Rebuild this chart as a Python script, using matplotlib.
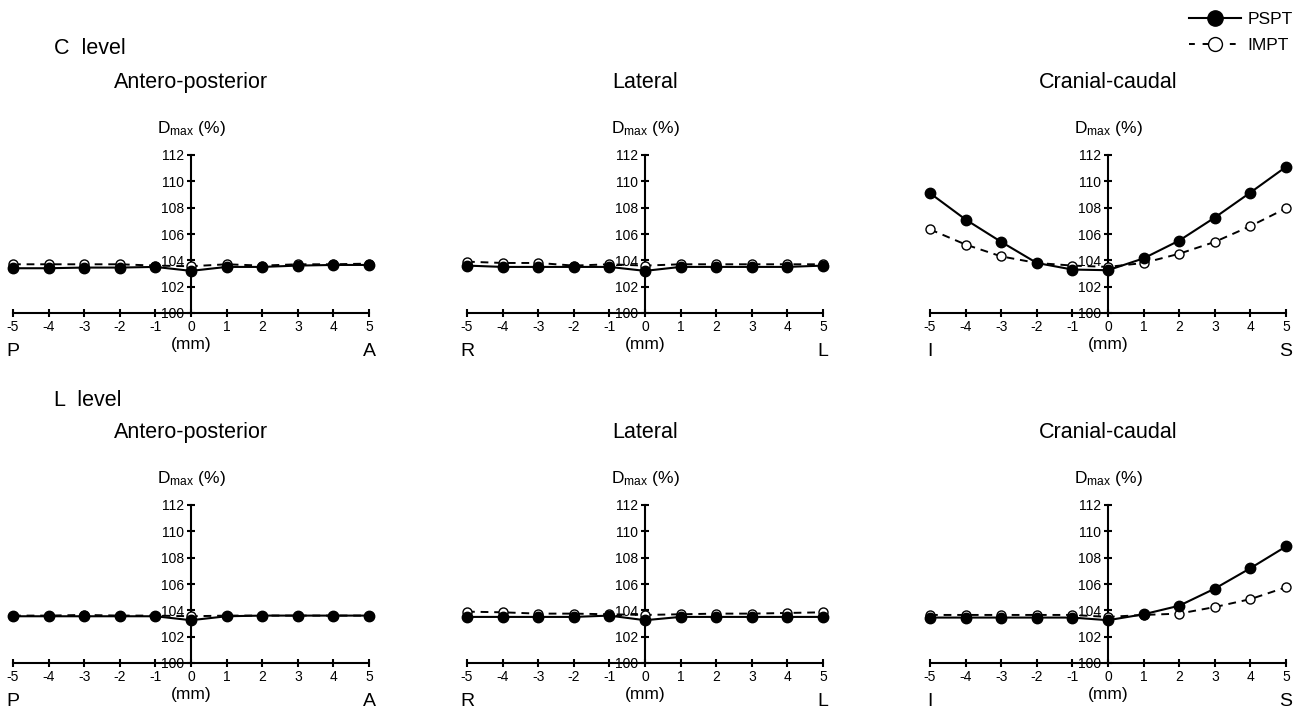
import numpy as np
import matplotlib
matplotlib.use('Agg')
import matplotlib.pyplot as plt
from matplotlib.transforms import blended_transform_factory

plt.rcParams['font.family'] = ['Liberation Sans', 'DejaVu Sans']
plt.rcParams['mathtext.default'] = 'regular'
plt.rcParams['axes.unicode_minus'] = False

shift_mm = [-5, -4, -3, -2, -1, 0, 1, 2, 3, 4, 5]
y_ticks = [100, 102, 104, 106, 108, 110, 112]

levels = ['C  level', 'L  level']
directions = ['Antero-posterior', 'Lateral', 'Cranial-caudal']
end_labels = [('P', 'A'), ('R', 'L'), ('I', 'S')]

# C level
c_ap_pspt = [103.4, 103.4, 103.45, 103.45, 103.5, 103.2, 103.5, 103.5, 103.6, 103.65, 103.65]
c_ap_impt = [103.7, 103.7, 103.7, 103.7, 103.6, 103.55, 103.7, 103.6, 103.7, 103.7, 103.75]
c_lat_pspt = [103.6, 103.5, 103.5, 103.5, 103.5, 103.2, 103.5, 103.5, 103.5, 103.5, 103.6]
c_lat_impt = [103.9, 103.8, 103.8, 103.6, 103.7, 103.6, 103.7, 103.7, 103.7, 103.7, 103.7]
c_cc_pspt = [109.1, 107.1, 105.4, 103.8, 103.3, 103.25, 104.15, 105.5, 107.25, 109.15, 111.1]
c_cc_impt = [106.35, 105.2, 104.3, 103.8, 103.6, 103.5, 103.8, 104.5, 105.4, 106.6, 107.95]

# L level
l_ap_pspt = [103.55, 103.55, 103.55, 103.55, 103.55, 103.25, 103.55, 103.6, 103.6, 103.6, 103.6]
l_ap_impt = [103.6, 103.6, 103.65, 103.6, 103.6, 103.55, 103.6, 103.6, 103.6, 103.6, 103.6]
l_lat_pspt = [103.5, 103.5, 103.5, 103.5, 103.6, 103.25, 103.5, 103.5, 103.5, 103.5, 103.5]
l_lat_impt = [103.9, 103.85, 103.75, 103.75, 103.7, 103.65, 103.7, 103.75, 103.75, 103.8, 103.85]
l_cc_pspt = [103.45, 103.45, 103.45, 103.45, 103.45, 103.25, 103.7, 104.35, 105.65, 107.2, 108.85]
l_cc_impt = [103.65, 103.65, 103.65, 103.65, 103.65, 103.5, 103.65, 103.75, 104.25, 104.85, 105.75]

pspt = [[c_ap_pspt, c_lat_pspt, c_cc_pspt], [l_ap_pspt, l_lat_pspt, l_cc_pspt]]
impt = [[c_ap_impt, c_lat_impt, c_cc_impt], [l_ap_impt, l_lat_impt, l_cc_impt]]

W, H = 1305, 715
fig = plt.figure(figsize=(W / 100, H / 100), dpi=100)

col_left = [13, 467, 930]
col_width = 356
row_top = [155, 505]
row_height = 158
level_y = [48, 400]

for r in range(2):
	fig.text(54 / W, 1 - level_y[r] / H, levels[r], fontsize=15.5, ha='left', va='center')
	for c in range(3):
		ax = fig.add_axes([col_left[c] / W, 1 - (row_top[r] + row_height) / H,
						   col_width / W, row_height / H])
		ax.plot(shift_mm, impt[r][c], color='black', lw=1.4, ls=(0, (4, 3)),
				marker='o', ms=6.5, mfc='white', mec='black', mew=1, clip_on=False, zorder=3)
		ax.plot(shift_mm, pspt[r][c], color='black', lw=1.5, ls='-',
				marker='o', ms=7.5, mfc='black', mec='black', clip_on=False, zorder=4)
		ax.set_xlim(-5, 5)
		ax.set_ylim(100, 112)
		ax.set_xticks(shift_mm)
		ax.set_yticks(y_ticks)
		ax.spines['left'].set_position(('data', 0))
		ax.spines['top'].set_visible(False)
		ax.spines['right'].set_visible(False)
		for s in ('left', 'bottom'):
			ax.spines[s].set_linewidth(1.5)
		ax.tick_params(axis='both', direction='inout', length=6, width=1.5, labelsize=10)
		ax.tick_params(axis='x', pad=2)
		ax.tick_params(axis='y', pad=2)
		ax.patch.set_visible(False)

		tr = blended_transform_factory(ax.transData, ax.transAxes)
		ax.text(0, 1.46, directions[c], transform=tr, fontsize=15.5, ha='center', va='center')
		ax.text(0, 1.17, 'D$_{max}$ (%)', transform=tr, fontsize=12.5, ha='center', va='center')
		ax.text(0, -0.2, '(mm)', transform=tr, fontsize=12.5, ha='center', va='center')
		ax.text(-5, -0.245, end_labels[c][0], transform=tr, fontsize=14, ha='center', va='center')
		ax.text(5, -0.245, end_labels[c][1], transform=tr, fontsize=14, ha='center', va='center')

h_pspt, = plt.plot([], [], color='black', lw=1.5, marker='o', ms=11, mfc='black')
h_impt, = plt.plot([], [], color='black', lw=1.4, ls=(0, (3, 4)), marker='o', ms=10,
				   mfc='white', mew=1)
fig.legend([h_pspt, h_impt], ['PSPT', 'IMPT'], loc='upper right', bbox_to_anchor=(1.0, 1.0),
		   frameon=False, fontsize=12.5, handlelength=3.0, handletextpad=0.4, labelspacing=0.6,
		   borderaxespad=0.3)

fig.savefig('out.png', dpi=100)
